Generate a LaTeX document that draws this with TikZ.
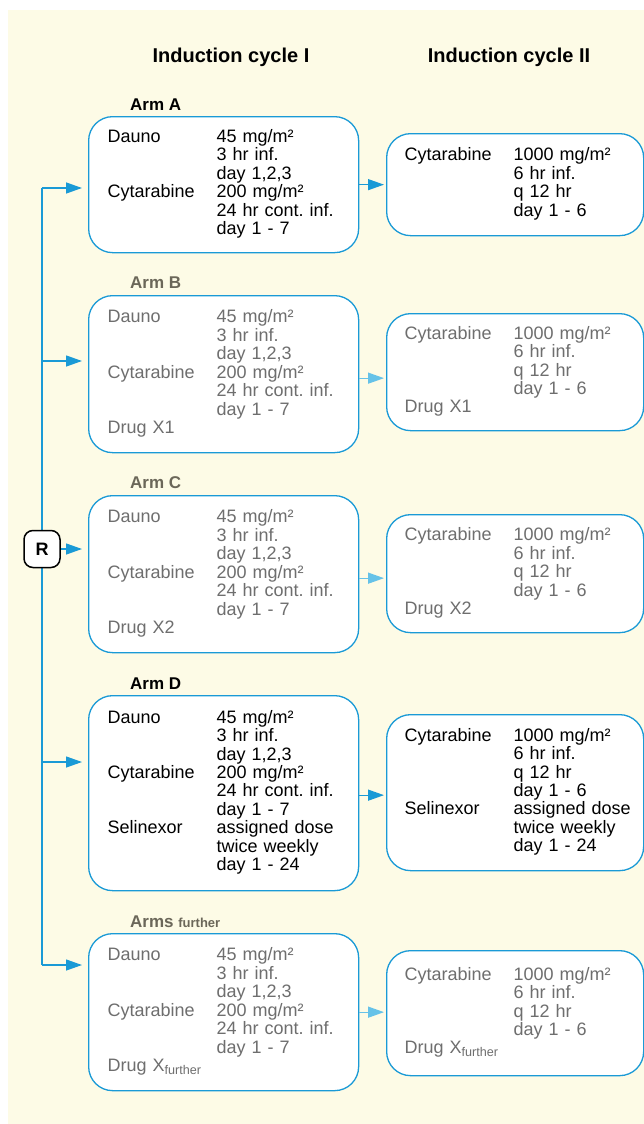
\documentclass[tikz,border=0pt]{standalone}
\usepackage{fontspec}
\setmainfont{Liberation Sans}
\usetikzlibrary{arrows.meta}
\frenchspacing

\definecolor{cream}{HTML}{FDFBE6}
\definecolor{armblue}{HTML}{1A9AD6}
\definecolor{paleblue}{HTML}{66C2E8}
\definecolor{greytext}{HTML}{6E6E6E}
\definecolor{greyhead}{HTML}{6B6759}

\tikzset{
  cychead/.style={font=\bfseries\fontsize{20}{20}\selectfont},
  armhead/.style={anchor=base west, inner sep=0pt, font=\bfseries\fontsize{17}{17}\selectfont},
  box/.style={draw=armblue, line width=1.3pt, fill=white, rounded corners=24pt,
    anchor=north west, inner ysep=0pt, align=left,
    font=\fontsize{18}{18}\selectfont},
  boxI/.style={box, inner xsep=19pt, text width=232pt},
  boxII/.style={box, inner xsep=18pt, text width=221pt},
  arr/.style={draw=armblue, line width=1.3pt, -{Triangle[length=16pt,width=11pt]}},
  rbox/.style={draw=black, line width=1.5pt, fill=white, rounded corners=9pt,
    minimum width=36pt, minimum height=37pt, inner sep=0pt,
    font=\bfseries\fontsize{18}{18}\selectfont}
}

\begin{document}
\begin{tikzpicture}[x=1pt,y=-1pt]
\useasboundingbox (0,0) rectangle (644,1124);
\fill[cream] (8,10) rectangle (644,1124);

\node[cychead] (hcycI) at (231,57) {Induction cycle I};
\node[cychead] (hcycII) at (509,57) {Induction cycle II};

% Arm A
\node[armhead] (labA) at (130,110) {Arm A};
\node[boxI, minimum height=136pt] (armA) at (88,116) {%
\begin{tabular}{@{}p{109pt}@{}l@{}}
Dauno & 45 mg/m² \\
 & 3 hr inf. \\
 & day 1,2,3 \\
Cytarabine & 200 mg/m² \\
 & 24 hr cont. inf. \\
 & day 1 - 7
\end{tabular}};
\node[boxII, minimum height=102pt] (armAii) at (386,133) {%
\begin{tabular}{@{}p{109pt}@{}l@{}}
Cytarabine & 1000 mg/m² \\
 & 6 hr inf. \\
 & q 12 hr \\
 & day 1 - 6
\end{tabular}};

% Arm B
\node[armhead, text=greyhead] (labB) at (130,288) {Arm B};
\node[boxI, text=greytext, minimum height=157pt] (armB) at (88,295) {%
\begin{tabular}{@{}p{109pt}@{}l@{}}
Dauno & 45 mg/m² \\
 & 3 hr inf. \\
 & day 1,2,3 \\
Cytarabine & 200 mg/m² \\
 & 24 hr cont. inf. \\
 & day 1 - 7 \\
Drug X1 &
\end{tabular}};
\node[boxII, text=greytext, minimum height=117pt] (armBii) at (386,313) {%
\begin{tabular}{@{}p{109pt}@{}l@{}}
Cytarabine & 1000 mg/m² \\
 & 6 hr inf. \\
 & q 12 hr \\
 & day 1 - 6 \\
Drug X1 &
\end{tabular}};

% Arm C
\node[armhead, text=greyhead] (labC) at (130,488) {Arm C};
\node[boxI, text=greytext, minimum height=157pt] (armC) at (88,495) {%
\begin{tabular}{@{}p{109pt}@{}l@{}}
Dauno & 45 mg/m² \\
 & 3 hr inf. \\
 & day 1,2,3 \\
Cytarabine & 200 mg/m² \\
 & 24 hr cont. inf. \\
 & day 1 - 7 \\
Drug X2 &
\end{tabular}};
\node[boxII, text=greytext, minimum height=118pt] (armCii) at (386,514) {%
\begin{tabular}{@{}p{109pt}@{}l@{}}
Cytarabine & 1000 mg/m² \\
 & 6 hr inf. \\
 & q 12 hr \\
 & day 1 - 6 \\
Drug X2 &
\end{tabular}};

% Arm D
\node[armhead] (labD) at (130,689) {Arm D};
\node[boxI, minimum height=195pt] (armD) at (88,695) {%
\begin{tabular}{@{}p{109pt}@{}l@{}}
Dauno & 45 mg/m² \\
 & 3 hr inf. \\
 & day 1,2,3 \\
Cytarabine & 200 mg/m² \\
 & 24 hr cont. inf. \\
 & day 1 - 7 \\
Selinexor & assigned dose \\
 & twice weekly \\
 & day 1 - 24
\end{tabular}};
\node[boxII, minimum height=156pt] (armDii) at (386,714) {%
\begin{tabular}{@{}p{109pt}@{}l@{}}
Cytarabine & 1000 mg/m² \\
 & 6 hr inf. \\
 & q 12 hr \\
 & day 1 - 6 \\
Selinexor & assigned dose \\
 & twice weekly \\
 & day 1 - 24
\end{tabular}};

% further arms
\node[armhead, text=greyhead] (labF) at (130,927) {Arms {\fontsize{13}{13}\selectfont further}};
\node[boxI, text=greytext, minimum height=157pt] (armF) at (88,933) {%
\begin{tabular}{@{}p{109pt}@{}l@{}}
Dauno & 45 mg/m² \\
 & 3 hr inf. \\
 & day 1,2,3 \\
Cytarabine & 200 mg/m² \\
 & 24 hr cont. inf. \\
 & day 1 - 7 \\
Drug X\textsubscript{further} &
\end{tabular}};
\node[boxII, text=greytext, minimum height=125pt] (armFii) at (386,950) {%
\begin{tabular}{@{}p{109pt}@{}l@{}}
Cytarabine & 1000 mg/m² \\
 & 6 hr inf. \\
 & q 12 hr \\
 & day 1 - 6 \\
Drug X\textsubscript{further} &
\end{tabular}};

% randomisation line
\coordinate (jA) at (42,188);
\coordinate (jB) at (42,361);
\coordinate (jD) at (42,762);
\coordinate (jF) at (42,965);
\draw[armblue, line width=1.3pt] (jA) -- (jF);
\node[rbox] (rand) at (42,549) {R};

\draw[arr, shorten >=6pt] (jA) -- (jA -| armA.west);
\draw[arr, shorten >=6pt] (jB) -- (jB -| armB.west);
\draw[arr, shorten >=6pt] (rand.east) -- (rand.east -| armC.west);
\draw[arr, shorten >=6pt] (jD) -- (jD -| armD.west);
\draw[arr, shorten >=6pt] (jF) -- (jF -| armF.west);

% cycle I -> cycle II
\draw[arr, shorten >=2pt] (armA.east) -- (armA.east -| armAii.west);
\draw[arr, paleblue, shorten >=2pt] ([yshift=-4pt]armB.east) -- ([yshift=-4pt]armB.east -| armBii.west);
\draw[arr, paleblue, shorten >=2pt] ([yshift=-4pt]armC.east) -- ([yshift=-4pt]armC.east -| armCii.west);
\draw[arr, shorten >=2pt] ([yshift=-2pt]armD.east) -- ([yshift=-2pt]armD.east -| armDii.west);
\draw[arr, paleblue, shorten >=2pt] (armF.east) -- (armF.east -| armFii.west);
\end{tikzpicture}
\end{document}
